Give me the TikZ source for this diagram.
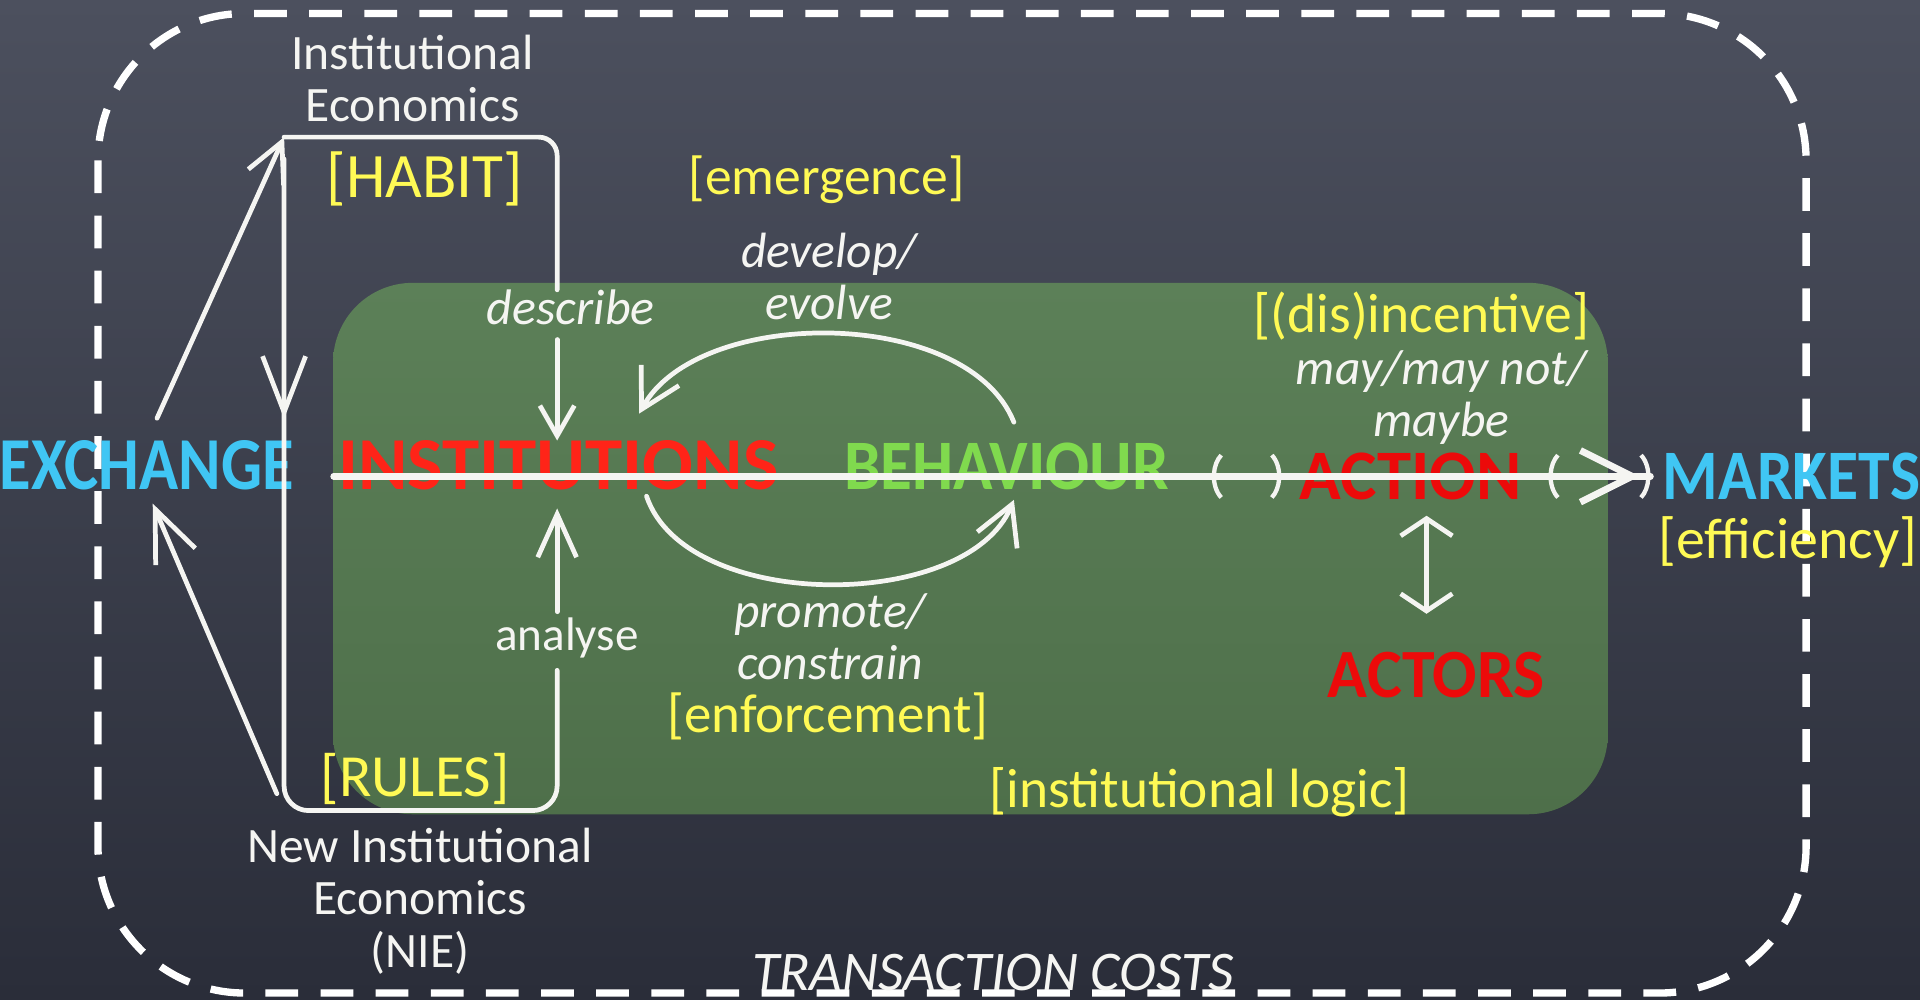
\documentclass[tikz,border=0pt]{standalone}
\usepackage{fontspec}
\setmainfont{Carlito}
\usetikzlibrary{arrows.meta,calc}
\definecolor{bgtop}{HTML}{4C505E}
\definecolor{bgbot}{HTML}{2A2D39}
\definecolor{boxtop}{HTML}{5C8058}
\definecolor{boxbot}{HTML}{4E6F4A}
\definecolor{cyanT}{HTML}{40C6F4}
\definecolor{redI}{HTML}{FF2418}
\definecolor{redA}{HTML}{EC0A0A}
\definecolor{greenT}{HTML}{80DA4E}
\definecolor{yellowT}{HTML}{FFFA55}
\definecolor{chalk}{HTML}{F5F5F2}
\newcommand{\fw}[2]{\resizebox{#1}{!}{#2}}
\newcommand{\fwh}[3]{\resizebox{#1}{#2}{#3}}
\tikzset{
  txt/.style={inner sep=0pt, outer sep=0pt},
  ytxt/.style={txt, text=yellowT},
  wtxt/.style={txt, text=chalk},
  wpara/.style={txt, text=chalk, align=center, font=\fontsize{11.5pt}{12.1pt}\selectfont},
  wipara/.style={txt, text=chalk, align=center, font=\itshape\fontsize{11.5pt}{12.1pt}\selectfont},
  bigword/.style={txt, font=\bfseries},
  chalkline/.style={draw=chalk, line width=1.1pt, line cap=round, line join=round},
  mainline/.style={draw=chalk, line width=1.5pt, line cap=round},
  barb/.style={-{Straight Barb[length=7pt,width=8pt]}},
  dashbox/.style={draw=white, line width=1.7pt, dash pattern=on 7.6pt off 5.2pt, rounded corners=1.2cm},
}
\begin{document}
\begin{tikzpicture}[x=0.01cm, y=-0.01cm]
\useasboundingbox (0,0) rectangle (1568,816);
\shade[top color=bgtop, bottom color=bgbot] (0,0) rectangle (1568,816);
\shade[top color=boxtop, bottom color=boxbot, rounded corners=0.65cm] (272,231) rectangle (1313,665);
\draw[dashbox] (80,11) rectangle (1475,811);

% bold words
\node[bigword, text=cyanT] (exch) at (120,380) {\fwh{2.40cm}{0.40cm}{EXCHANGE}};
\node[bigword, text=redI] (inst) at (456,380) {\fwh{3.59cm}{0.40cm}{INSTITUTIONS}};
\node[bigword, text=greenT] (beh) at (822,381) {\fwh{2.65cm}{0.38cm}{BEHAVIOUR}};
\node[bigword, text=redA] (act) at (1152,389) {\fwh{1.81cm}{0.38cm}{ACTION}};
\node[bigword, text=cyanT] (mk) at (1463,389) {\fwh{2.10cm}{0.38cm}{MARKETS}};
\node[bigword, text=redA] (actors) at (1173,551) {\fwh{1.77cm}{0.37cm}{ACTORS}};

% yellow labels
\node[ytxt] (habit) at (347,146) {\fw{1.60cm}{[HABIT]}};
\node[ytxt] (emerg) at (675,147) {\fw{2.25cm}{[emergence]}};
\node[ytxt] (disinc) at (1161,258) {\fw{2.74cm}{[(dis)incentive]}};
\node[ytxt] (effic) at (1460,443) {\fw{2.11cm}{[efficiency]}};
\node[ytxt] (enforce) at (676,585) {\fw{2.62cm}{[enforcement]}};
\node[ytxt] (rules) at (339,636) {\fw{1.54cm}{[RULES]}};
\node[ytxt] (logic) at (980,647) {\fw{3.43cm}{[institutional logic]}};

% white labels
\node[wpara] (ie) at (337,64) {Institutional\\Economics};
\node[wpara] (nie) at (343,736) {New Institutional\\Economics\\(NIE)};
\node[wipara] (dev) at (677,226) {develop/\\evolve};
\node[wipara] (prom) at (678,520) {promote/\\constrain};
\node[wipara] (may) at (1177,325) {may/may not/\\maybe};
\node[wtxt] (desc) at (466,251) {\fw{1.37cm}{\itshape describe}};
\node[wtxt] (anal) at (463,521) {\fw{1.17cm}{analyse}};
\node[wtxt] (tc) at (811,794) {\fw{3.93cm}{\itshape TRANSACTION COSTS}};

% helper coordinates
\coordinate (ly) at (0,389);
\coordinate (colx) at (455,0);
\coordinate (vx) at (1165,0);
\coordinate (ieC) at (232,112);
\coordinate (nieC) at (232,662);
\coordinate (midA) at (232,342);

% left loop
\draw[chalkline, -{Straight Barb[length=9pt,width=9pt]}, shorten <=0.2cm] (exch.north) -- (ieC);
\draw[chalkline, rounded corners=0.15cm] (ieC) -- (455,112) -- (desc.north -| colx);
\draw[chalkline, barb, shorten <=0.12cm] (desc.south -| colx) -- (inst.north -| colx);
\draw[chalkline, -{Straight Barb[length=10pt,width=9pt]}, shorten <=0.05cm, shorten >=0.15cm] (anal.north -| colx) -- (inst.south -| colx);
\draw[chalkline, rounded corners=0.2cm] ($(ieC)+(0,18)$) -- (nieC) -- (455,662) -- ($(anal.south -| colx)+(0,10)$);
\draw[chalkline, -{Straight Barb[length=13pt,width=10pt]}] ($(ieC)+(0,18)$) -- (midA);
\draw[chalkline, -{Straight Barb[length=12pt,width=10pt]}, shorten <=0.15cm, shorten >=0.12cm] (nieC) -- (exch.south);

% curved arrows
\coordinate (devS) at ($(beh.north)+(6,-17)$);
\coordinate (devE) at ($(inst.north)+(66,-22)$);
\draw[chalkline, -{Straight Barb[length=9pt,width=10pt]}] (devS) .. controls ($(devS)+(-38,-95)$) and ($(devE)+(48,-88)$) .. (devE);
\coordinate (proS) at ($(inst.south)+(72,5)$);
\coordinate (proE) at ($(beh.south)+(6,8)$);
\draw[chalkline, -{Straight Barb[length=9pt,width=10pt]}] (proS) .. controls ($(proS)+(32,95)$) and ($(proE)+(-38,92)$) .. (proE);

% main line
\coordinate (t0) at ($(inst.west |- ly)+(-4,0)$);
\coordinate (t1) at ($(beh.east |- ly)+(35,0)$);
\coordinate (t2) at ($(act.west |- ly)+(-15,0)$);
\coordinate (t3) at ($(act.east |- ly)+(22,0)$);
\coordinate (t4) at ($(mk.west |- ly)+(-10,0)$);
\draw[mainline] (t0) -- (t4);
\draw[mainline, {Arc Barb[arc=110,width=13pt,line width=1pt]}-{Arc Barb[arc=110,width=13pt,line width=1pt]}] (t1) -- (t2);
\draw[mainline, {Arc Barb[arc=110,width=13pt,line width=1pt]}-{Straight Barb[length=12pt,width=12pt,line width=1.6pt] Arc Barb[arc=110,width=13pt,line width=1pt]}] (t3) -- (t4);

% action <-> actors
\draw[chalkline, {Straight Barb[length=4pt,width=12pt]}-{Straight Barb[length=4pt,width=12pt]}, shorten <=0.13cm, shorten >=0.31cm] (act.south -| vx) -- (actors.north -| vx);
\end{tikzpicture}
\end{document}
